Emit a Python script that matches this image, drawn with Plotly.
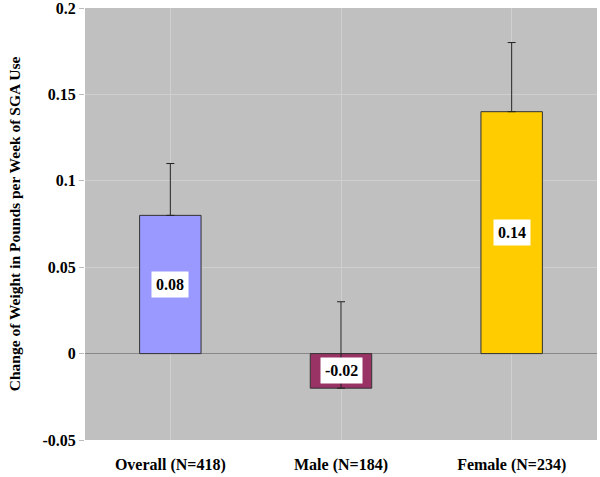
import plotly.graph_objects as go

# podatki
groups = ["Overall (N=418)", "Male (N=184)", "Female (N=234)"]
values = [0.08, -0.02, 0.14]
err_plus = [0.03, 0.05, 0.04]
labels = ["0.08", "-0.02", "0.14"]
colors = ["#9999FF", "#993366", "#FFCC00"]

font_fam = "Liberation Serif, Times New Roman, serif"

fig = go.Figure()
fig.add_trace(go.Bar(
    x=groups,
    y=values,
    width=0.36,
    marker=dict(color=colors, line=dict(color="#333333", width=1)),
    error_y=dict(type="data", array=err_plus, arrayminus=[0, 0, 0],
                 symmetric=False, color="#222222", thickness=1, width=4),
    showlegend=False,
    hoverinfo="x+y",
))

# oznake vrednosti v belih okvirjih na sredini stolpca
for g, v, t in zip(groups, values, labels):
    fig.add_annotation(
        x=g, y=v / 2, text="<b>%s</b>" % t, showarrow=False,
        bgcolor="white", borderpad=4,
        font=dict(family=font_fam, size=16, color="black"),
    )

fig.update_layout(
    width=600, height=477,
    margin=dict(l=85, r=3, t=8, b=37),
    paper_bgcolor="white",
    plot_bgcolor="#C0C0C0",
    font=dict(family=font_fam, size=14, color="black"),
    xaxis=dict(
        automargin=False,
        showgrid=True, gridcolor="#CFCFCF", gridwidth=1,
        tickfont=dict(family=font_fam, size=16),
        ticklabelstandoff=13,
        ticklabeloverflow="allow",
        showline=False,
        tickprefix="<b>", ticksuffix="</b>",
    ),
    yaxis=dict(
        automargin=False,
        range=[-0.05, 0.2],
        tickvals=[-0.05, 0, 0.05, 0.1, 0.15, 0.2],
        ticktext=["<b>-0.05</b>", "<b>0</b>", "<b>0.05</b>", "<b>0.1</b>",
                  "<b>0.15</b>", "<b>0.2</b>"],
        showgrid=True, gridcolor="#CFCFCF", gridwidth=1,
        zeroline=True, zerolinecolor="#888888", zerolinewidth=1,
        ticks="outside", ticklen=5, tickcolor="#BBBBBB",
        ticklabeloverflow="allow",
        tickfont=dict(family=font_fam, size=16),
        title=dict(text="<b>Change of Weight in Pounds per Week of SGA Use</b>",
                   font=dict(family=font_fam, size=15.5), standoff=18),
    ),
)

# brez privzetega roba strani, da se graf začne v kotu okna
fig.write_html("out.html", config={"displayModeBar": False},
               post_script="document.body.style.margin='0';")
